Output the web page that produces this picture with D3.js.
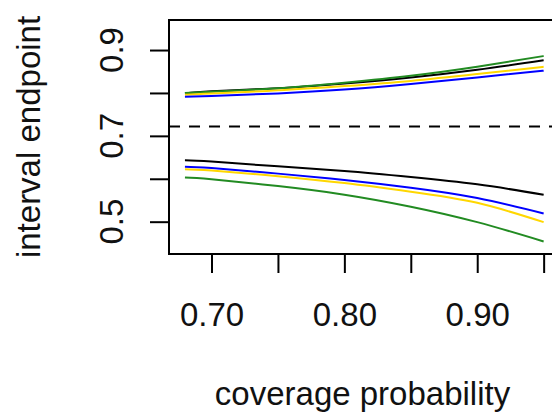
<!DOCTYPE html>
<html>
<head>
<meta charset="utf-8">
<script src="https://cdn.jsdelivr.net/npm/d3@7"></script>
<style>
  html, body { margin: 0; padding: 0; background: white; overflow: hidden; }
  svg { display: block; font-family: "Liberation Sans", Arial, sans-serif; }
</style>
</head>
<body>
<div id="chart"></div>
<script>
const coverage = [0.68, 0.70, 0.75, 0.80, 0.85, 0.90, 0.95];

const upperBlack  = [0.799, 0.804, 0.811, 0.822, 0.836, 0.854, 0.876];
const upperGreen  = [0.800, 0.803, 0.811, 0.824, 0.840, 0.861, 0.886];
const upperYellow = [0.796, 0.799, 0.806, 0.816, 0.828, 0.844, 0.861];
const upperBlue   = [0.791, 0.793, 0.799, 0.808, 0.821, 0.836, 0.852];

const lowerBlack  = [0.643, 0.640, 0.629, 0.618, 0.604, 0.587, 0.563];
const lowerBlue   = [0.628, 0.625, 0.612, 0.597, 0.579, 0.555, 0.519];
const lowerYellow = [0.622, 0.619, 0.606, 0.590, 0.570, 0.544, 0.499];
const lowerGreen  = [0.603, 0.599, 0.583, 0.563, 0.535, 0.499, 0.454];

const refLevel = 0.722;

const xTicks = [0.70, 0.75, 0.80, 0.85, 0.90, 0.95];
const xTickLabels = ['0.70', '', '0.80', '', '0.90', ''];
const yTicks = [0.5, 0.6, 0.7, 0.8, 0.9];
const yTickLabels = ['0.5', '', '0.7', '', '0.9'];

const width = 552;
const height = 417;
const box = { left: 169, top: 20, right: 556, bottom: 254 };
const FONT = 33;

const svg = d3.select('#chart')
  .append('svg')
  .attr('width', width)
  .attr('height', height);

const x = d3.scaleLinear()
  .domain([0.668, 0.9593])
  .range([box.left, box.right]);

const y = d3.scaleLinear()
  .domain([0.4247, 0.970])
  .range([box.bottom, box.top]);

// curves
const series = [
  { values: upperBlack, color: '#000000' },
  { values: upperGreen, color: '#228B22' },
  { values: upperYellow, color: '#FFD700' },
  { values: upperBlue, color: '#0000FF' },
  { values: lowerBlack, color: '#000000' },
  { values: lowerBlue, color: '#0000FF' },
  { values: lowerYellow, color: '#FFD700' },
  { values: lowerGreen, color: '#228B22' },
];

const line = d3.line()
  .curve(d3.curveNatural)
  .x((_, i) => x(coverage[i]))
  .y(d => y(d));

const plot = svg.append('g');

plot.selectAll('path.series')
  .data(series)
  .enter()
  .append('path')
    .attr('class', 'series')
    .attr('d', d => line(d.values))
    .attr('fill', 'none')
    .attr('stroke', d => d.color)
    .attr('stroke-width', 2);

plot.append('line')
  .attr('x1', box.left)
  .attr('x2', box.right)
  .attr('y1', y(refLevel))
  .attr('y2', y(refLevel))
  .attr('stroke', 'black')
  .attr('stroke-width', 2)
  .attr('stroke-dasharray', '11,9');

// box
svg.append('rect')
  .attr('x', box.left)
  .attr('y', box.top)
  .attr('width', box.right - box.left)
  .attr('height', box.bottom - box.top)
  .attr('fill', 'none')
  .attr('stroke', 'black')
  .attr('stroke-width', 2);

// x axis
const xAxis = d3.axisBottom(x)
  .tickValues(xTicks)
  .tickFormat((_, i) => xTickLabels[i])
  .tickSize(19)
  .tickSizeOuter(0)
  .tickPadding(30);

svg.append('g')
  .attr('transform', `translate(0, ${box.bottom})`)
  .call(xAxis)
  .call(g => g.select('.domain').remove())
  .call(g => g.selectAll('line').attr('stroke-width', 2))
  .call(g => g.selectAll('text')
    .attr('font-size', FONT)
    .attr('font-family', '"Liberation Sans", Arial, sans-serif')
    .attr('fill', '#111'));

// y axis
const yAxis = d3.axisLeft(y)
  .tickValues(yTicks)
  .tickFormat('')
  .tickSize(19)
  .tickSizeOuter(0);

svg.append('g')
  .attr('transform', `translate(${box.left}, 0)`)
  .call(yAxis)
  .call(g => g.select('.domain').remove())
  .call(g => g.selectAll('line').attr('stroke-width', 2));

svg.append('g')
  .selectAll('text')
  .data(yTicks)
  .enter()
  .append('text')
    .attr('transform', d => `translate(123, ${y(d)}) rotate(-90)`)
    .attr('text-anchor', 'middle')
    .attr('font-size', FONT)
    .attr('fill', '#111')
    .text((_, i) => yTickLabels[i]);

// titles
svg.append('text')
  .attr('x', (box.left + box.right) / 2)
  .attr('y', 405)
  .attr('text-anchor', 'middle')
  .attr('font-size', FONT)
  .attr('fill', '#111')
  .text('coverage probability');

svg.append('text')
  .attr('transform', `translate(40, ${(box.top + box.bottom) / 2}) rotate(-90)`)
  .attr('text-anchor', 'middle')
  .attr('font-size', FONT)
  .attr('fill', '#111')
  .text('interval endpoint');
</script>
</body>
</html>
